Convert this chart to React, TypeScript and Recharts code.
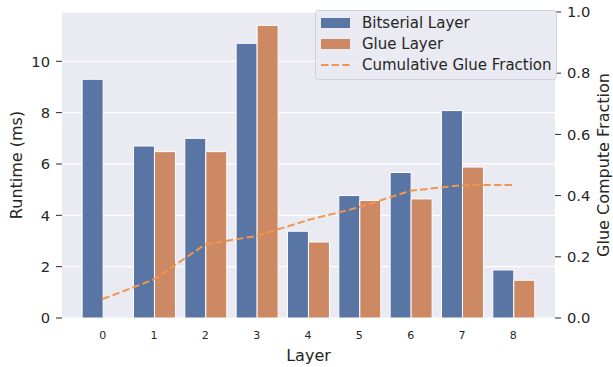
import React from 'react';
import { ComposedChart, Bar, Line, XAxis, YAxis, CartesianGrid } from 'recharts';

const layers = ['0', '1', '2', '3', '4', '5', '6', '7', '8'];
const bitserialRuntime = [9.3, 6.7, 7.0, 10.7, 3.38, 4.77, 5.67, 8.08, 1.87];
const glueRuntime: (number | null)[] = [null, 6.48, 6.48, 11.4, 2.96, 4.58, 4.64, 5.88, 1.47];
const cumulativeGlueFraction = [0.062, 0.126, 0.241, 0.268, 0.32, 0.362, 0.416, 0.434, 0.435];
const leftTicks = [0, 2, 4, 6, 8, 10];
const rightTicks = [0, 0.2, 0.4, 0.6, 0.8, 1.0];

const data = layers.map((layer, i) => ({
  layer,
  bitserial: bitserialRuntime[i],
  glue: glueRuntime[i],
  fraction: cumulativeGlueFraction[i],
}));

const BLUE = '#5875a4';
const ORANGE = '#cc8963';
const LINE = '#f2964f';
const TEXT = '#262626';
const FONT = '"DejaVu Sans", sans-serif';

const LegendBox = () => (
  <svg width={242} height={70} style={{ display: 'block' }}>
    <rect x={0.5} y={0.5} width={241} height={69} rx={3} ry={3} fill="#eaeaf2" fillOpacity={0.85} stroke="#d0d0d8" />
    <rect x={6} y={8} width={29} height={10} fill={BLUE} />
    <text x={47} y={13} dominantBaseline="central" fontSize={15} fill={TEXT} fontFamily={FONT}>Bitserial Layer</text>
    <rect x={6} y={29} width={29} height={10} fill={ORANGE} />
    <text x={47} y={34} dominantBaseline="central" fontSize={15} fill={TEXT} fontFamily={FONT}>Glue Layer</text>
    <line x1={6} y1={55} x2={35} y2={55} stroke={LINE} strokeWidth={2} strokeDasharray="7.4 3.2" />
    <text x={47} y={55} dominantBaseline="central" fontSize={15} fill={TEXT} fontFamily={FONT}>Cumulative Glue Fraction</text>
  </svg>
);

export default function App() {
  return (
    <div style={{ position: 'absolute', left: 0, top: 0, width: 613, height: 367, fontFamily: FONT }}>
      <ComposedChart
        width={613}
        height={367}
        data={data}
        margin={{ top: 12, right: 0, bottom: 0, left: 0 }}
        barCategoryGap="10%"
        barGap={0}
      >
        <CartesianGrid yAxisId="left" vertical={false} stroke="#ffffff" strokeWidth={1.2} fill="#eaeaf2" />
        <XAxis
          dataKey="layer"
          height={49}
          axisLine={false}
          tickLine={false}
          tickSize={0}
          tickMargin={13}
          padding={{ left: 15, right: 16 }}
          tick={{ fontSize: 11, fill: TEXT, fontFamily: FONT }}
          label={{
            content: ({ viewBox }: any) => (
              <text x={viewBox.x + viewBox.width / 2} y={355} textAnchor="middle" dominantBaseline="central" fontSize={16} fill={TEXT} fontFamily={FONT}>Layer</text>
            ),
          }}
        />
        <YAxis
          yAxisId="left"
          width={62}
          domain={[0, 11.92]}
          ticks={leftTicks}
          axisLine={false}
          tickSize={6}
          tickMargin={6}
          tickLine={{ stroke: TEXT }}
          tick={{ fontSize: 14.7, fill: TEXT, fontFamily: FONT }}
          label={{
            content: ({ viewBox }: any) => (
              <text x={16} y={viewBox.y + viewBox.height / 2} transform={`rotate(-90, 16, ${viewBox.y + viewBox.height / 2})`} textAnchor="middle" dominantBaseline="central" fontSize={16} fill={TEXT} fontFamily={FONT}>Runtime (ms)</text>
            ),
          }}
        />
        <YAxis
          yAxisId="right"
          orientation="right"
          width={58}
          domain={[0, 1]}
          ticks={rightTicks}
          axisLine={false}
          tickSize={6}
          tickMargin={6}
          tickLine={{ stroke: TEXT }}
          tickFormatter={(v: number) => v.toFixed(1)}
          tick={{ fontSize: 14.7, fill: TEXT, fontFamily: FONT }}
          label={{
            content: ({ viewBox }: any) => (
              <text x={603} y={viewBox.y + viewBox.height / 2} transform={`rotate(-90, 603, ${viewBox.y + viewBox.height / 2})`} textAnchor="middle" dominantBaseline="central" fontSize={16} fill={TEXT} fontFamily={FONT}>Glue Compute Fraction</text>
            ),
          }}
        />
        <Bar yAxisId="left" dataKey="bitserial" name="Bitserial Layer" fill={BLUE} stroke="#ffffff" strokeWidth={1} isAnimationActive={false} />
        <Bar yAxisId="left" dataKey="glue" name="Glue Layer" fill={ORANGE} stroke="#ffffff" strokeWidth={1} isAnimationActive={false} />
        <Line yAxisId="right" type="linear" dataKey="fraction" name="Cumulative Glue Fraction" stroke={LINE} strokeWidth={2} strokeDasharray="7.4 3.2" dot={false} activeDot={false} isAnimationActive={false} />
      </ComposedChart>
      <div style={{ position: 'absolute', left: 315, top: 10 }}>
        <LegendBox />
      </div>
    </div>
  );
}
